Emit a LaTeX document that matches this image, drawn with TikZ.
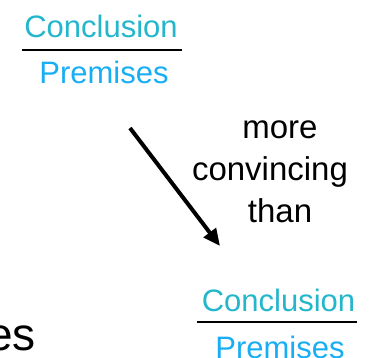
\documentclass[tikz,border=0pt]{standalone}
\usepackage{fontspec}
\setmainfont{Liberation Sans}
\usetikzlibrary{arrows.meta}
\definecolor{concl}{RGB}{36,182,203}
\definecolor{prem}{RGB}{24,174,244}
\begin{document}
\begin{tikzpicture}[x=1pt,y=-1pt,
  frac/.style={inner sep=0pt,anchor=base,font=\fontsize{31}{31}\selectfont},
  label/.style={inner sep=0pt,anchor=base,font=\fontsize{33}{33}\selectfont},
  bar/.style={line width=2.6pt},
  relarrow/.style={line width=4pt,-{Triangle[length=17pt,width=15pt]}}]
\clip (0,0) rectangle (370,357);
\useasboundingbox (0,0) rectangle (370,357);

% upper fraction
\node[frac,text=concl] (c1) at (101,37) {Conclusion};
\node[frac,text=prem]  (p1) at (104,83) {Premises};
\coordinate (b1l) at (22,50);
\coordinate (b1r) at (182,50);
\draw[bar] (b1l) -- (b1r);

% lower fraction
\node[frac,text=concl] (c2) at (278.5,311) {Conclusion};
\node[frac,text=prem]  (p2) at (280,358) {Premises};
\coordinate (b2l) at (197,322);
\coordinate (b2r) at (357,322);
\draw[bar] (b2l) -- (b2r);

% relation between the two
\coordinate (a1) at (130,128);
\coordinate (a2) at (220,246);
\draw[relarrow] (a1) -- (a2);
\node[label] (l1) at (280,138) {more};
\node[label] (l2) at (270,180) {convincing};
\node[label] (l3) at (280,222) {than};

% word ending at the left edge
\node[inner sep=0pt,anchor=base east,font=\fontsize{46}{46}\selectfont] (w) at (36,350) {es};
\end{tikzpicture}
\end{document}
